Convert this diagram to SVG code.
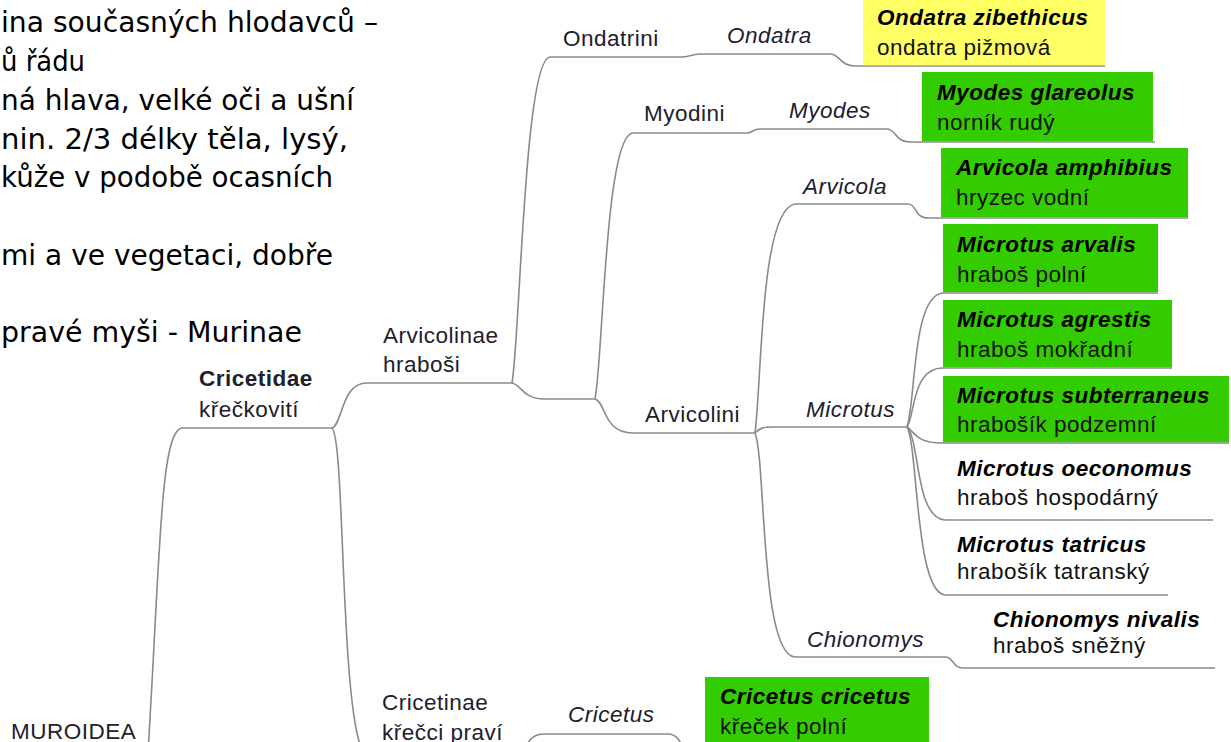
<svg xmlns="http://www.w3.org/2000/svg" width="1231" height="742" viewBox="0 0 1231 742">
<style>
.c{fill:none;stroke:#8a8a8a;stroke-width:1.6}
.l{font-family:"Liberation Sans",Arial,sans-serif;font-size:22.5px;letter-spacing:0.5px;fill:#20202e}
.it{font-style:italic}
.b{font-weight:bold}
.sp{font-family:"Liberation Sans",Arial,sans-serif;font-size:22.5px;letter-spacing:0.5px;font-weight:bold;font-style:italic;fill:#000}
.cm{font-family:"Liberation Sans",Arial,sans-serif;font-size:22.5px;letter-spacing:0.5px;fill:#111}
.g{fill:#33cc00}
.y{fill:#ffff66}
.n{font-family:"DejaVu Sans",sans-serif;font-size:28px;fill:#000}
</style>
<rect width="1231" height="742" fill="#fff"/>
<g id="note">
<text class="n" x="1" y="32" textLength="377" lengthAdjust="spacingAndGlyphs">ina současných hlodavců –</text>
<text class="n" x="1" y="71" textLength="84" lengthAdjust="spacingAndGlyphs">ů řádu</text>
<text class="n" x="1" y="109.5" textLength="353" lengthAdjust="spacingAndGlyphs">ná hlava, velké oči a ušní</text>
<text class="n" x="1" y="148.5" textLength="347" lengthAdjust="spacingAndGlyphs">nin. 2/3 délky těla, lysý,</text>
<text class="n" x="1" y="187" textLength="332" lengthAdjust="spacingAndGlyphs">kůže v podobě ocasních</text>
<text class="n" x="1" y="264.5" textLength="332" lengthAdjust="spacingAndGlyphs">mi a ve vegetaci, dobře</text>
<text class="n" x="1" y="342" textLength="301" lengthAdjust="spacingAndGlyphs">pravé myši - Murinae</text>
</g>
<g id="connectors">
<path class="c" d="M148,752 C160,560 160,430 182,428 L332,428"/>
<path class="c" d="M332,428 C343,424 341,383 367,383 L512,383"/>
<path class="c" d="M332,428 C345,440 340,700 362,750 L515,750"/>
<path class="c" d="M512,383 C520,340 524,60 550,57 L683,57 C690,57 692,54 700,54 L830,54 C840,54 840,66 855,66 L1105,66"/>
<path class="c" d="M512,383 C522,385 522,399 545,399 L595,399"/>
<path class="c" d="M595,399 C603,360 605,140 632,133 L747,133 C752,133 753,129 760,129 L887,129 C896,129 895,142 910,142 L1155,142"/>
<path class="c" d="M595,399 C606,402 603,433 633,433 L755,433"/>
<path class="c" d="M755,433 C762,380 760,210 795,204 L908,204 C917,204 914,218 928,218 L1188,218"/>
<path class="c" d="M755,433 C760,428 763,427 773,427 L907,427"/>
<path class="c" d="M755,433 C766,460 760,655 795,657 L945,657 C954,657 952,668 963,668 L1215,668"/>
<path class="c" d="M907,427 C916,400 912,295 943,293 L1158,293"/>
<path class="c" d="M907,427 C915,415 912,368 943,368 L1172,368"/>
<path class="c" d="M907,427 C915,432 915,443 943,443 L1229,443"/>
<path class="c" d="M907,427 C920,440 915,518 945,520 L1213,520"/>
<path class="c" d="M907,427 C918,445 915,592 945,595 L1168,595"/>
<path class="c" d="M520,760 C528,742 530,734 545,734 L668,734 C676,734 680,740 684,750"/>
</g>
<g id="muroidea"><text class="l" x="11" y="739">MUROIDEA</text></g>
<g id="cricetidae"><text class="l b" x="199" y="386">Cricetidae</text><text class="l" x="199" y="417">křečkovití</text></g>
<g id="arvicolinae"><text class="l" x="383" y="343">Arvicolinae</text><text class="l" x="383" y="372">hraboši</text></g>
<g id="cricetinae"><text class="l" x="382" y="710">Cricetinae</text><text class="l" x="382" y="740">křečci praví</text></g>
<g id="ondatrini"><text class="l" x="563" y="46">Ondatrini</text></g>
<g id="ondatra"><text class="l it" x="727" y="43">Ondatra</text></g>
<g id="myodini"><text class="l" x="644" y="121">Myodini</text></g>
<g id="myodes"><text class="l it" x="789" y="118">Myodes</text></g>
<g id="arvicolini"><text class="l" x="645" y="422">Arvicolini</text></g>
<g id="arvicola"><text class="l it" x="803" y="194">Arvicola</text></g>
<g id="microtus"><text class="l it" x="806" y="417">Microtus</text></g>
<g id="chionomys"><text class="l it" x="807" y="647">Chionomys</text></g>
<g id="cricetus"><text class="l it" x="568" y="722">Cricetus</text></g>
<g id="sp-ondatra"><rect class="y" x="863" y="-3" width="242" height="68.2"/><text class="sp" x="877" y="25">Ondatra zibethicus</text><text class="cm" x="877" y="55">ondatra pižmová</text></g>
<g id="sp-myodes"><rect class="g" x="922" y="72" width="231" height="69.2"/><text class="sp" x="937" y="100">Myodes glareolus</text><text class="cm" x="937" y="130">norník rudý</text></g>
<g id="sp-arvicola"><rect class="g" x="941" y="148" width="247" height="69.2"/><text class="sp" x="956" y="175">Arvicola amphibius</text><text class="cm" x="956" y="205">hryzec vodní</text></g>
<g id="sp-arvalis"><rect class="g" x="943" y="224" width="215" height="68.2"/><text class="sp" x="957" y="252">Microtus arvalis</text><text class="cm" x="957" y="282">hraboš polní</text></g>
<g id="sp-agrestis"><rect class="g" x="943" y="300" width="229" height="67.2"/><text class="sp" x="957" y="327">Microtus agrestis</text><text class="cm" x="957" y="357">hraboš mokřadní</text></g>
<g id="sp-subterraneus"><rect class="g" x="943" y="376" width="286" height="66.2"/><text class="sp" x="957" y="403">Microtus subterraneus</text><text class="cm" x="957" y="432">hrabošík podzemní</text></g>
<g id="sp-oeconomus"><text class="sp" x="957" y="476">Microtus oeconomus</text><text class="cm" x="957" y="505">hraboš hospodárný</text></g>
<g id="sp-tatricus"><text class="sp" x="957" y="552">Microtus tatricus</text><text class="cm" x="957" y="579">hrabošík tatranský</text></g>
<g id="sp-chionomys"><text class="sp" x="993" y="627">Chionomys nivalis</text><text class="cm" x="993" y="653">hraboš sněžný</text></g>
<g id="sp-cricetus"><rect class="g" x="705" y="677" width="224" height="70"/><text class="sp" x="720" y="704">Cricetus cricetus</text><text class="cm" x="720" y="734">křeček polní</text></g>
</svg>
